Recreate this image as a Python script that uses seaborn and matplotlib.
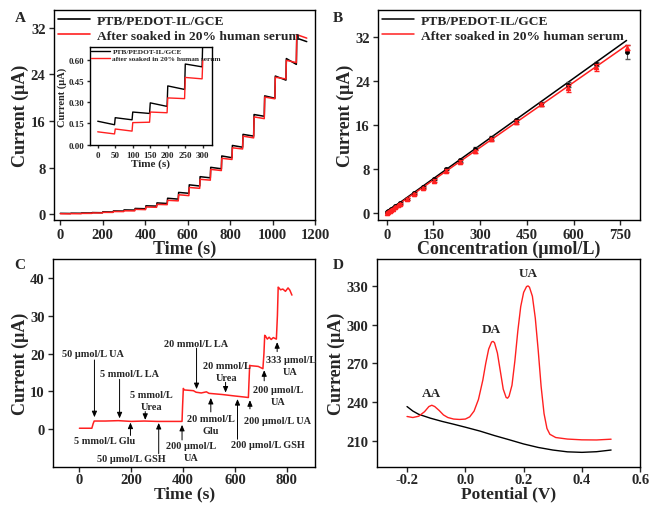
import numpy as np
import pandas as pd
import matplotlib
matplotlib.use("Agg")
import matplotlib.pyplot as plt
import seaborn as sns

# ---------------- data ----------------
# Panel A: amperometric steps (segment start times, start/end levels)
A_step_t = [0, 50, 100, 150, 200, 250, 300, 352, 403, 455, 505, 557, 607, 658,
            708, 760, 810, 860, 912, 962, 1012, 1064, 1113]
A_end_time = 1160
A_black_start = [0.165, 0.19, 0.23, 0.295, 0.415, 0.57, 0.75, 1.0, 1.45, 1.95, 2.75, 3.75,
                 5.05, 6.45, 8.05, 10.0, 11.8, 13.7, 17.1, 20.3, 23.7, 26.7, 30.2]
A_black_end = [0.14, 0.175, 0.22, 0.27, 0.39, 0.55, 0.72, 0.95, 1.4, 1.85, 2.6, 3.6,
               4.85, 6.25, 7.8, 9.7, 11.5, 13.4, 16.8, 19.9, 23.0, 25.7, 29.6]
A_red_start = [0.09, 0.11, 0.155, 0.23, 0.33, 0.475, 0.6, 0.85, 1.25, 1.7, 2.4, 3.35,
               4.6, 6.0, 7.7, 9.6, 11.4, 13.4, 16.7, 20.1, 23.5, 26.4, 30.8]
A_red_end = [0.075, 0.095, 0.158, 0.225, 0.325, 0.465, 0.58, 0.8, 1.2, 1.65, 2.3, 3.2,
             4.45, 5.85, 7.5, 9.4, 11.2, 13.1, 16.4, 19.8, 23.2, 26.0, 30.2]

# Panel B: calibration
B_conc = [0, 5, 10, 15, 20, 28, 36, 44, 64, 89, 118, 152, 190, 234, 282, 335, 416, 495, 581, 672, 770]
B_black = [0.2, 0.35, 0.5, 0.7, 0.9, 1.2, 1.5, 1.8, 2.6, 3.6, 4.7, 6.2, 8.0, 9.6, 11.7,
           13.6, 16.8, 19.8, 23.3, 27.0, 29.2]
B_black_err = [0.1, 0.1, 0.1, 0.1, 0.1, 0.1, 0.15, 0.15, 0.15, 0.2, 0.2, 0.2, 0.2, 0.25, 0.3,
               0.3, 0.3, 0.3, 0.4, 0.4, 1.2]
B_red = [0.1, 0.25, 0.4, 0.6, 0.8, 1.1, 1.4, 1.7, 2.5, 3.4, 4.5, 5.9, 7.7, 9.3, 11.2,
         13.4, 16.5, 19.7, 22.6, 26.4, 30.0]
B_red_err = [0.1, 0.1, 0.1, 0.1, 0.1, 0.15, 0.15, 0.15, 0.2, 0.2, 0.2, 0.25, 0.25, 0.3, 0.3,
             0.3, 0.35, 0.3, 0.6, 0.6, 0.5]
B_fit_x = [0, 770]
B_fit_black = [0.2, 31.3]
B_fit_red = [0.1, 30.4]

# Panel C: interference test
C_t = [0, 48, 53, 57, 100, 150, 200, 250, 300, 350, 396, 398, 401, 404, 440, 450, 470, 490,
       500, 550, 600, 640, 652, 654, 657, 660, 690, 708, 712, 715, 718, 725, 732, 740, 748,
       760, 764, 767, 770, 776, 785, 795, 805, 812, 820]
C_I = [0.3, 0.3, 1.5, 2.2, 2.2, 2.3, 2.1, 2.2, 2.1, 2.1, 2.1, 6.0, 10.8, 10.4, 10.2, 9.8, 9.6,
       9.9, 9.5, 9.2, 8.8, 8.5, 8.4, 12.0, 16.9, 16.8, 16.6, 16.0, 20.0, 24.8, 24.6, 23.8, 24.3,
       23.7, 24.2, 23.8, 30.0, 37.5, 37.3, 36.8, 37.0, 36.4, 37.3, 36.7, 35.4]
# annotations: (text, text_x, text_y, arrow_x, arrow_tail_y, arrow_tip_y)
C_notes = [
    ("50 μmol/L UA", 52, 20.1, 58, 18.3, 3.2),
    ("5 mmol/L LA", 194, 14.7, 155, 13.2, 2.9),
    ("5 mmol/L\nUrea", 277, 7.7, 254, 4.7, 2.5),
    ("5 mmol/L Glu", 97, -2.9, 197, -1.6, 1.8),
    ("50 μmol/L GSH", 200, -7.7, 306, -6.4, 1.7),
    ("200 μmol/L\nUA", 432, -5.9, 396, -2.8, 1.2),
    ("20 mmol/L LA", 452, 22.7, 452, 21.4, 10.6),
    ("20 mmol/L\nGlu", 507, 1.3, 507, 4.6, 8.3),
    ("20 mmol/L\nUrea", 568, 15.3, 564, 12.4, 9.7),
    ("200 μmol/L GSH", 729, -4.1, 610, -2.6, 8.0),
    ("200 μmol/L UA", 764, 2.4, 658, 5.4, 7.7),
    ("200 μmol/L\nUA", 765, 8.9, 713, 12.8, 15.6),
    ("333 μmol/L\nUA", 815, 16.8, 763, 20.5, 23.0),
]

# Panel D: DPV
D_E_red = [-0.20, -0.18, -0.16, -0.14, -0.125, -0.115, -0.105, -0.09, -0.075, -0.06, -0.04,
           -0.02, 0.00, 0.015, 0.03, 0.045, 0.06, 0.07, 0.08, 0.09, 0.095, 0.10, 0.11, 0.12,
           0.13, 0.14, 0.145, 0.15, 0.16, 0.17, 0.18, 0.19, 0.20, 0.21, 0.215, 0.22, 0.23,
           0.24, 0.25, 0.26, 0.27, 0.28, 0.29, 0.31, 0.35, 0.40, 0.45, 0.50]
D_I_red = [228.8, 228.0, 229.0, 232.5, 236.5, 237.5, 236.5, 233.5, 230.0, 228.0, 226.8,
           226.5, 226.8, 228.5, 233.0, 242.0, 257.0, 270.0, 281.0, 286.5, 287.0, 286.0,
           278.0, 264.0, 250.0, 243.5, 243.0, 244.5, 253.0, 272.0, 295.0, 314.0, 325.0,
           329.5, 330.0, 329.0, 322.0, 305.0, 280.0, 252.0, 231.0, 219.5, 215.0, 212.5,
           211.3, 210.7, 210.6, 211.2]
D_E_black = [-0.20, -0.18, -0.16, -0.12, -0.08, -0.04, 0.00, 0.05, 0.10, 0.15, 0.20, 0.25,
             0.30, 0.35, 0.40, 0.45, 0.50]
D_I_black = [236.5, 233.0, 230.5, 227.5, 225.0, 222.8, 220.5, 217.5, 214.0, 210.8, 207.5,
             204.8, 202.8, 201.4, 201.0, 201.5, 202.8]
D_peaks = [("AA", -0.115, 242), ("DA", 0.09, 292), ("UA", 0.215, 335)]

legend_labels = ["PTB/PEDOT-IL/GCE", "After soaked in 20% human serum"]
inset_labels = ["PTB/PEDOT-IL/GCE", "after soaked in 20% human serum"]

# ---------------- style ----------------
sns.set_style("ticks")
plt.rcParams["font.family"] = ["Liberation Serif", "DejaVu Serif"]
plt.rcParams["font.weight"] = "bold"
plt.rcParams["axes.labelweight"] = "bold"
plt.rcParams["axes.linewidth"] = 1.0
plt.rcParams["xtick.direction"] = "out"
plt.rcParams["ytick.direction"] = "out"
plt.rcParams["xtick.major.size"] = 3.5
plt.rcParams["ytick.major.size"] = 3.5

BLACK = "#000000"
RED = "#ff2020"
TICK_FS = 10.5
LABEL_FS = 13

fig = plt.figure(figsize=(6.5, 5.06), dpi=100)

def style_axes(ax, tick_fs=TICK_FS, xpad=2.5):
    for s in ax.spines.values():
        s.set_visible(True)
        s.set_color("black")
        s.set_linewidth(1.0)
    ax.tick_params(labelsize=tick_fs, width=1.0, top=False, right=False, pad=2.5)
    ax.tick_params(axis="x", pad=xpad)
    for lab in ax.get_xticklabels() + ax.get_yticklabels():
        lab.set_fontweight("bold")

def steps_to_df(starts, ends, label):
    t, v = [], []
    n = len(A_step_t)
    for i in range(n):
        t0 = A_step_t[i]
        t1 = (A_step_t[i + 1] - 2) if i + 1 < n else A_end_time
        t += [t0, t1]
        v += [starts[i], ends[i]]
    return pd.DataFrame({"t": t, "I": v, "series": label})

dfA = pd.concat([steps_to_df(A_black_start, A_black_end, legend_labels[0]),
                 steps_to_df(A_red_start, A_red_end, legend_labels[1])])

# ---------------- Panel A ----------------
axA = fig.add_axes([0.083, 0.563, 0.402, 0.415])
sns.lineplot(data=dfA, x="t", y="I", hue="series", palette=[BLACK, RED],
             sort=False, estimator=None, lw=1.1, ax=axA)
axA.set_xlim(-30, 1200)
axA.set_ylim(-1, 35)
axA.set_xticks(range(0, 1201, 200))
axA.set_yticks(range(0, 33, 8))
axA.set_xlabel("Time (s)", fontsize=LABEL_FS, fontweight="bold", labelpad=-1)
axA.set_ylabel("Current (μA)", fontsize=LABEL_FS, fontweight="bold", labelpad=1)
style_axes(axA)
leg = axA.legend(loc="upper left", frameon=False, fontsize=9.7, borderaxespad=0.1,
                 handlelength=2.4, handletextpad=0.5, borderpad=0.2, labelspacing=0.2)
for t in leg.get_texts():
    t.set_fontweight("bold")
leg.get_lines()[0].set_linewidth(1.2)
leg.get_lines()[1].set_linewidth(1.2)

# inset
axI = fig.add_axes([0.1385, 0.711, 0.1875, 0.194])
sns.lineplot(data=dfA[dfA["t"] <= 305], x="t", y="I", hue="series",
             palette=[BLACK, RED], sort=False, estimator=None, lw=1.0, ax=axI)
axI.set_xlim(-22, 326)
axI.set_ylim(-0.005, 0.69)
axI.set_xticks(range(0, 301, 50))
axI.set_yticks([0.0, 0.15, 0.30, 0.45, 0.60])
axI.set_yticklabels(["0.00", "0.15", "0.30", "0.45", "0.60"])
axI.set_xlabel("Time (s)", fontsize=8, fontweight="bold", labelpad=0)
axI.set_ylabel("Current (μA)", fontsize=7.5, fontweight="bold", labelpad=1)
style_axes(axI, tick_fs=6.5)
axI.tick_params(length=2.5, pad=1.5)
legI = axI.legend(inset_labels, loc="upper left", frameon=False, fontsize=5.3,
                  borderaxespad=0.05, handlelength=2.5, handletextpad=0.4,
                  borderpad=0.1, labelspacing=0.1)
for t in legI.get_texts():
    t.set_fontweight("bold")

# ---------------- Panel B ----------------
axB = fig.add_axes([0.5815, 0.563, 0.4035, 0.415])
sns.lineplot(x=B_fit_x, y=B_fit_black, color=BLACK, lw=1.1, ax=axB, label=legend_labels[0])
sns.lineplot(x=B_fit_x, y=B_fit_red, color=RED, lw=1.1, ax=axB, label=legend_labels[1])
axB.errorbar(B_conc, B_black, yerr=B_black_err, fmt="o", ms=2.5, color=BLACK,
             ecolor="#555555", elinewidth=0.8, capsize=1.8, zorder=3)
axB.errorbar(B_conc, B_red, yerr=B_red_err, fmt="^", ms=3, color=RED,
             ecolor=RED, elinewidth=0.8, capsize=1.8, zorder=4)
axB.set_xlim(-28, 814)
axB.set_ylim(-1.27, 36.8)
axB.set_xticks(range(0, 751, 150))
axB.set_yticks(range(0, 33, 8))
axB.set_xlabel("Concentration (μmol/L)", fontsize=LABEL_FS, fontweight="bold", labelpad=-1)
axB.set_ylabel("Current (μA)", fontsize=LABEL_FS, fontweight="bold", labelpad=1)
style_axes(axB)
legB = axB.legend(loc="upper left", frameon=False, fontsize=9.7, borderaxespad=0.1,
                  handlelength=2.4, handletextpad=0.5, borderpad=0.2, labelspacing=0.2)
for t in legB.get_texts():
    t.set_fontweight("bold")

# ---------------- Panel C ----------------
axC = fig.add_axes([0.0815, 0.076, 0.4035, 0.41])
sns.lineplot(x=C_t, y=C_I, color=RED, lw=1.1, sort=False, estimator=None, ax=axC)
for text, tx, ty, ax_, y0, y1 in C_notes:
    axC.annotate("", xy=(ax_, y1), xytext=(ax_, y0),
                 arrowprops=dict(arrowstyle="-|>,head_length=0.35,head_width=0.15",
                                 color="black", lw=0.7, shrinkA=0, shrinkB=0))
    axC.text(tx, ty, text, fontsize=7.4, fontweight="bold", ha="center", va="center",
             linespacing=1.45)
axC.set_xlim(-102, 910)
axC.set_ylim(-9.8, 44.9)
axC.set_xticks(range(0, 801, 200))
axC.set_yticks(range(0, 41, 10))
axC.set_xlabel("Time (s)", fontsize=12.5, fontweight="bold", labelpad=-1)
axC.set_ylabel("Current (μA)", fontsize=LABEL_FS, fontweight="bold", labelpad=1)
style_axes(axC, xpad=1.5)

# ---------------- Panel D ----------------
axD = fig.add_axes([0.58, 0.076, 0.405, 0.41])
sns.lineplot(x=D_E_black, y=D_I_black, color=BLACK, lw=1.0, ax=axD)
sns.lineplot(x=D_E_red, y=D_I_red, color=RED, lw=1.0, ax=axD)
for name, px, py in D_peaks:
    axD.text(px, py, name, fontsize=9.5, fontweight="bold", ha="center", va="bottom")
axD.set_xlim(-0.303, 0.6)
axD.set_ylim(190, 350.8)
axD.set_xticks([-0.2, 0.0, 0.2, 0.4, 0.6])
axD.set_xticklabels(["-0.2", "0.0", "0.2", "0.4", "0.6"])
axD.set_yticks(range(210, 331, 30))
axD.set_xlabel("Potential (V)", fontsize=12.5, fontweight="bold", labelpad=-1)
axD.set_ylabel("Current (μA)", fontsize=LABEL_FS, fontweight="bold", labelpad=1)
style_axes(axD, xpad=1.5)

# panel letters
for letter, x, y in [("A", 0.031, 0.964), ("B", 0.52, 0.964), ("C", 0.031, 0.476), ("D", 0.52, 0.476)]:
    fig.text(x, y, letter, fontsize=11, fontweight="bold", ha="center", va="center")

fig.savefig("out.png", dpi=100)
